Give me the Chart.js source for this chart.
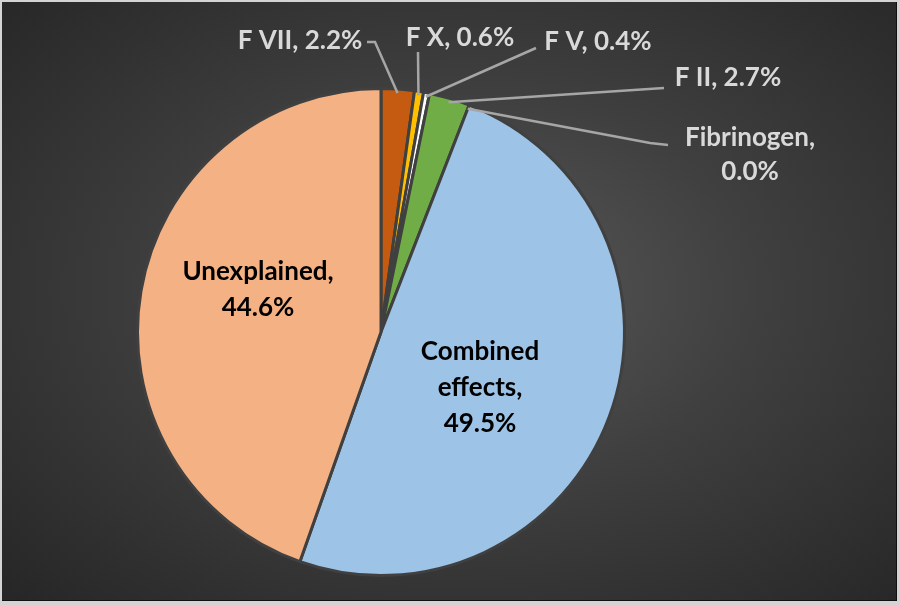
<!DOCTYPE html>
<html>
<head>
<meta charset="utf-8">
<script src="https://cdn.jsdelivr.net/npm/chart.js@4"></script>
<style>
    html, body { margin: 0; padding: 0; }
    body { width: 900px; height: 605px; background: #d4d4d4; position: relative; overflow: hidden; }
    #frame {
        position: absolute; left: 2px; top: 2px; width: 894px; height: 598px;
        background: radial-gradient(ellipse at 52% 48%, #595959 0%, #3f3f3f 45%, #262626 100%);
        border-right: 1px solid #111; border-bottom: 1px solid #111;
    }
    #chart { position: absolute; left: 0; top: 0; }
</style>
</head>
<body>
<div id="frame"></div>
<canvas id="chart" width="900" height="605"></canvas>
<script>
const labels = ["F VII", "F X", "F V", "F II", "Fibrinogen", "Combined effects", "Unexplained"];
const values = [2.2, 0.6, 0.4, 2.7, 0.0, 49.5, 44.6];
const colors = ["#C55A11", "#FFC000", "#FFFFFF", "#70AD47", "#4472C4", "#9DC3E6", "#F4B183"];

// label text lines, placed relative to pie centre
const textLines = [
    ["F VII, 2.2%"],
    ["F X, 0.6%"],
    ["F V, 0.4%"],
    ["F II, 2.7%"],
    ["Fibrinogen,", "0.0%"],
    ["Combined", "effects,", "49.5%"],
    ["Unexplained,", "44.6%"]
];
const labelPos = [[-81, -291], [79, -294], [217, -290], [347, -254], [369, -194], [99, 20], [-123, -60]];
// leader lines for the outside labels: points after the arc anchor
const leaders = [
    [[-6, -290], [-14, -290]],
    [[37, -280]],
    [[155, -284]],
    [[283, -244]],
    [[269, -189], [287, -187]],
    null,
    null
];
const outside = [true, true, true, true, true, false, false];

const labelPlugin = {
    id: "labels",
    afterDatasetsDraw(chart) {
        const ctx = chart.ctx;
        const meta = chart.getDatasetMeta(0);
        ctx.save();
        meta.data.forEach((arc, i) => {
            const p = arc.getProps(["x", "y", "startAngle", "endAngle", "outerRadius"], true);
            const mid = (p.startAngle + p.endAngle) / 2;
            if (outside[i]) {
                ctx.strokeStyle = "#a6a6a6";
                ctx.lineWidth = 2.5;
                ctx.beginPath();
                ctx.moveTo(p.x + Math.cos(mid) * (p.outerRadius - 4), p.y + Math.sin(mid) * (p.outerRadius - 4));
                leaders[i].forEach(pt => ctx.lineTo(p.x + pt[0], p.y + pt[1]));
                ctx.stroke();
                ctx.fillStyle = "#d9d9d9";
            } else {
                ctx.fillStyle = "#000000";
            }
            ctx.font = "bold 26px Lato";
            ctx.textAlign = "center";
            ctx.textBaseline = "middle";
            const lh = outside[i] ? 34 : 36;
            textLines[i].forEach((t, k) => {
                ctx.fillText(t, p.x + labelPos[i][0], p.y + labelPos[i][1] + k * lh);
            });
        });
        ctx.restore();
    }
};

new Chart(document.getElementById("chart"), {
    type: "pie",
    data: {
        labels: labels,
        datasets: [{
            data: values,
            backgroundColor: colors,
            borderColor: "#404040",
            borderWidth: 3,
            hoverOffset: 0
        }]
    },
    options: {
        responsive: false,
        animation: false,
        layout: { padding: { left: 136, top: 87, right: 274, bottom: 28 } },
        plugins: {
            legend: { display: false },
            tooltip: { enabled: false }
        }
    },
    plugins: [labelPlugin]
});
</script>
</body>
</html>
